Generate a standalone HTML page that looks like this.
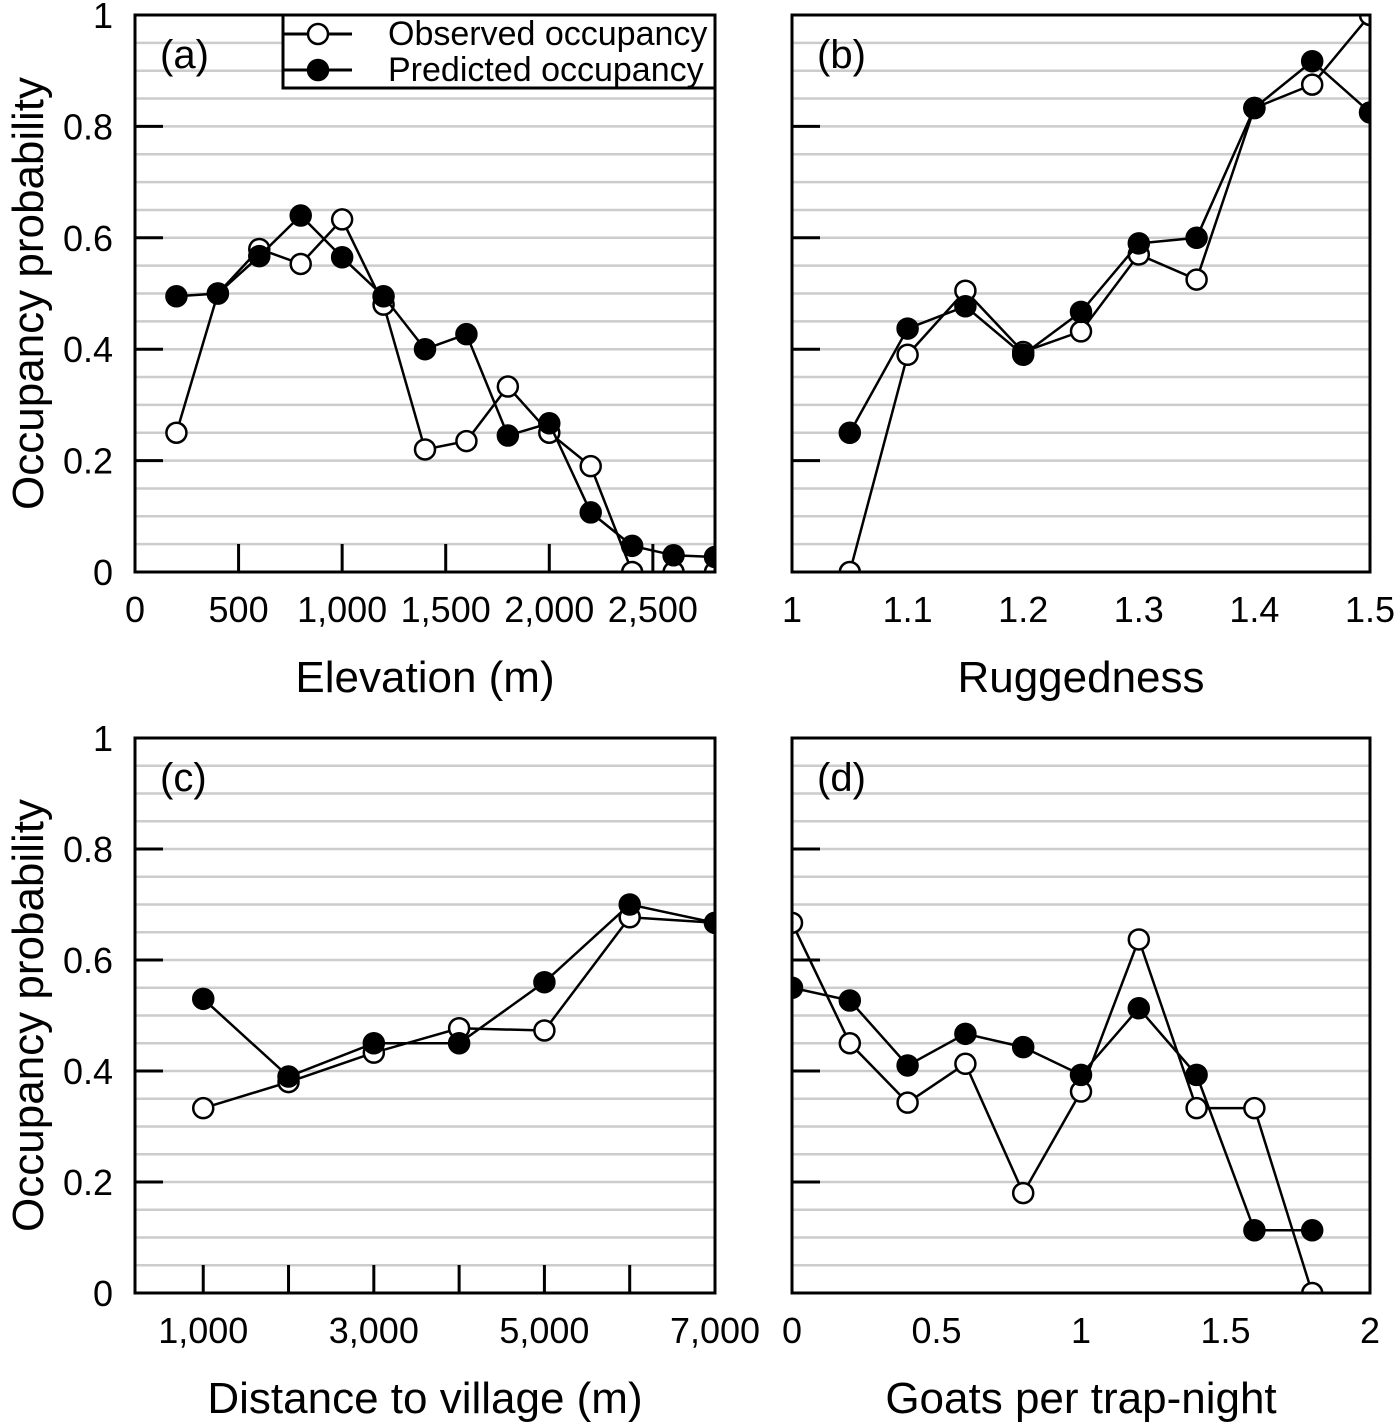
<!DOCTYPE html>
<html><head><meta charset="utf-8"><style>
body{margin:0;background:#fff;}
svg{display:block;font-family:"Liberation Sans",sans-serif;}
</style></head><body>
<svg id="c" width="1400" height="1426" viewBox="0 0 1400 1426" xmlns="http://www.w3.org/2000/svg"></svg>
<script>
const aX=[200,400,600,800,1000,1200,1400,1600,1800,2000,2200,2400,2600,2800];
const aObs=[0.25,0.50,0.58,0.553,0.633,0.48,0.22,0.235,0.333,0.25,0.19,0.0,0.0,0.0];
const aPred=[0.495,0.50,0.567,0.64,0.565,0.495,0.40,0.427,0.245,0.267,0.107,0.047,0.03,0.027];
const aTicks=["0","500","1,000","1,500","2,000","2,500"];
const bX=[1.05,1.1,1.15,1.2,1.25,1.3,1.35,1.4,1.45,1.5];
const bObs=[0,0.39,0.505,0.395,0.432,0.57,0.525,0.833,0.875,1.0];
const bPred=[0.25,0.437,0.477,0.39,0.467,0.59,0.60,0.833,0.917,0.825];
const bTicks=["1","1.1","1.2","1.3","1.4","1.5"];
const cX=[1000,2000,3000,4000,5000,6000,7000];
const cObs=[0.333,0.38,0.433,0.477,0.473,0.677,0.667];
const cPred=[0.53,0.39,0.45,0.45,0.56,0.70,0.667];
const cTicks=["1,000","3,000","5,000","7,000"];
const dX=[0,0.2,0.4,0.6,0.8,1.0,1.2,1.4,1.6,1.8];
const dObs=[0.667,0.45,0.343,0.413,0.18,0.363,0.637,0.333,0.333,0.0];
const dPred=[0.55,0.527,0.41,0.467,0.443,0.393,0.513,0.393,0.113,0.113];
const dTicks=["0","0.5","1","1.5","2"];
const yTicks=["0","0.2","0.4","0.6","0.8","1"];

const NS="http://www.w3.org/2000/svg";
const svg=document.getElementById('c');
function el(t,a,p){const e=document.createElementNS(NS,t);for(const k in a)e.setAttribute(k,a[k]);(p||svg).appendChild(e);return e;}

function panel(id,L,R,T,B,xmin,xmax,xs,obs,pred,tickVals,tickLabs,minorTicks,letter,xtitle,showY){
  const g=el('g',{});
  
  
  const X=v=>L+(v-xmin)/(xmax-xmin)*(R-L);
  const Y=v=>B-v*(B-T);
  for(let i=1;i<20;i++){const l=el('line',{x1:L,x2:R,y1:Y(i*0.05),y2:Y(i*0.05),stroke:'#cccccc','stroke-width':2.5},g);
    }
  for(let i=1;i<5;i++){const l=el('line',{x1:L,x2:L+28,y1:Y(i*0.2),y2:Y(i*0.2),stroke:'#000','stroke-width':3},g);
    }
  minorTicks.forEach(v=>{const l=el('line',{x1:X(v),x2:X(v),y1:B,y2:B-28,stroke:'#000','stroke-width':3},g);
    });
  const cp=el('clipPath',{id:'cp'+id},g);el('rect',{x:L,y:T,width:R-L,height:B-T},cp);
  const pg=el('g',{'clip-path':'url(#cp'+id+')'},g);
  [[obs,'#fff','observed'],[pred,'#000','predicted']].forEach(([ys,fill,nm])=>{
    const pl=el('polyline',{points:xs.map((x,i)=>X(x)+','+Y(ys[i])).join(' '),fill:'none',stroke:'#000','stroke-width':2.5},pg);
    
    xs.forEach((x,i)=>{const c=el('circle',{cx:X(x),cy:Y(ys[i]),r:10,fill:fill,stroke:'#000','stroke-width':2.5},pg);
      });
  });
  const fr=el('rect',{x:L,y:T,width:R-L,height:B-T,fill:'none',stroke:'#000','stroke-width':3},g);
  
  const lt=el('text',{x:L+25,y:T+53,'font-size':40},g);lt.textContent=letter;
  
  tickVals.forEach((v,i)=>{const t=el('text',{x:X(v),y:B+50,'font-size':36,'text-anchor':'middle'},g);t.textContent=tickLabs[i];
    });
  const xt=el('text',{x:(L+R)/2,y:B+120,'font-size':44,'text-anchor':'middle'},g);xt.textContent=xtitle;
  
  if(showY){
    yTicks.forEach((s,i)=>{const t=el('text',{x:L-22,y:Y(i*0.2)+13,'font-size':36,'text-anchor':'end'},g);t.textContent=s;
      });
    const yt=el('text',{x:0,y:0,'font-size':44,'text-anchor':'middle',transform:`translate(43,${(T+B)/2}) rotate(-90)`},g);
    yt.textContent='Occupancy probability';
    
  }
  return g;
}
panel('a',135,715,15,572,0,2800,aX,aObs,aPred,[0,500,1000,1500,2000,2500],aTicks,[500,1000,1500,2000,2500],'(a)','Elevation (m)',true);
panel('b',792,1370,15,572,1,1.5,bX,bObs,bPred,[1,1.1,1.2,1.3,1.4,1.5],bTicks,[],'(b)','Ruggedness',false);
panel('c',135,715,738,1293,200,7000,cX,cObs,cPred,[1000,3000,5000,7000],cTicks,[1000,2000,3000,4000,5000,6000],'(c)','Distance to village (m)',true);
panel('d',792,1370,738,1293,0,2,dX,dObs,dPred,[0,0.5,1,1.5,2],dTicks,[],'(d)','Goats per trap-night',false);

// legend
const lg=el('g',{});


el('rect',{x:283,y:15,width:432,height:73,fill:'#fff',stroke:'#000','stroke-width':3},lg);
[['Observed occupancy','#fff',34],['Predicted occupancy','#000',70]].forEach(([s,f,y])=>{
  const e=el('g',{},lg);
  
  
  el('line',{x1:283,x2:352,y1:y,y2:y,stroke:'#000','stroke-width':3},e);
  el('circle',{cx:318,cy:y,r:10,fill:f,stroke:'#000','stroke-width':2.5},e);
  const t=el('text',{x:388,y:y+11,'font-size':34},e);t.textContent=s;
});
</script>
</body></html>
